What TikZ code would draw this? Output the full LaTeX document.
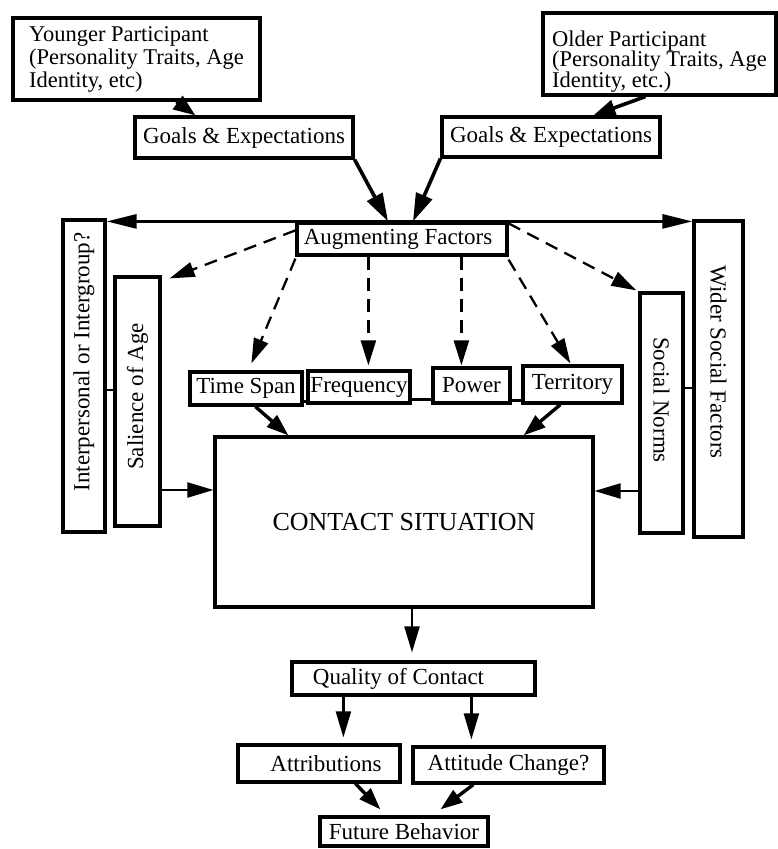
\documentclass[tikz,border=0pt]{standalone}
\usepackage{fontspec}
\setmainfont{Liberation Serif}
\usetikzlibrary{arrows.meta,calc}
\newcommand\fsz{\fontsize{23}{23}\selectfont}
\begin{document}
\begin{tikzpicture}[x=1pt,y=-1pt,
  box/.style={draw, line width=3.2pt, inner sep=0pt, font=\fsz, align=center},
  big/.style={-{Triangle[length=28pt,width=17pt]}, line width=3.6pt},
  short/.style={-{Triangle[length=22pt,width=16pt]}, line width=3.6pt},
  big2/.style={-{Triangle[length=22pt,width=15pt]}, line width=3.4pt},
  mid/.style={-{Triangle[length=26pt,width=15pt]}, line width=2.2pt},
  dsh/.style={-{Triangle[length=25pt,width=15pt]}, line width=2.3pt, dash pattern=on 13pt off 8pt},
  harr/.style={{Triangle[length=30pt,width=14pt]}-{Triangle[length=30pt,width=14pt]}, line width=2.6pt},
  link/.style={line width=2.4pt}]
\useasboundingbox (0,0) rectangle (778,849);
% boxes
\node[box, minimum width=247pt, minimum height=82pt, align=left, font=\fontsize{22.5}{23}\selectfont] (yp) at (136.5,59) {Younger Participant\\(Personality Traits, Age\\Identity, etc)};
\node[box, minimum width=218pt, minimum height=41pt] (g1) at (244,137.5) {Goals \& Expectations};
\node[box, minimum width=233pt, minimum height=82pt, align=left, font=\fontsize{22.5}{20.5}\selectfont] (op) at (659.5,54) {\rule{0pt}{30pt}Older Participant\\(Personality Traits, Age\\Identity, etc.)};
\node[box, minimum width=218pt, minimum height=40pt] (g2) at (551,137) {Goals \& Expectations};
\node[box, minimum width=210pt, minimum height=32pt] (aug) at (402,239) {Augmenting Factors\hspace*{8pt}};
\node[box, rotate=90, minimum width=312pt, minimum height=42pt] (ip) at (84,376) {\hspace*{28pt}Interpersonal or Intergroup?};
\node[box, rotate=90, minimum width=249pt, minimum height=45pt] (sal) at (137.5,401.5) {\hspace*{10pt}Salience of Age};
\node[box, minimum width=112pt, minimum height=33pt] (ts) at (246,388.5) {Time Span};
\node[box, minimum width=102pt, minimum height=32pt] (fr) at (359,387) {Frequency};
\node[box, minimum width=77pt, minimum height=35pt] (pw) at (471.5,385.5) {Power};
\node[box, minimum width=99pt, minimum height=37pt] (te) at (572.5,384.5) {Territory};
\node[box, rotate=-90, minimum width=240pt, minimum height=43pt] (sn) at (661.5,413) {Social Norms\hspace*{26pt}};
\node[box, rotate=-90, minimum width=316pt, minimum height=49pt] (ws) at (718.5,379) {Wider Social Factors\hspace*{34pt}};
\node[box, minimum width=378pt, minimum height=170pt, font=\fontsize{26}{26}\selectfont] (cs) at (404,522) {CONTACT SITUATION};
\node[box, minimum width=243pt, minimum height=33pt] (qc) at (413.5,678.5) {Quality of Contact\hspace*{30pt}};
\node[box, minimum width=162pt, minimum height=37pt] (at) at (319,763.5) {\hspace*{14pt}Attributions};
\node[box, minimum width=191pt, minimum height=36pt] (ac) at (508.5,765) {Attitude Change?};
\node[box, minimum width=168pt, minimum height=29pt] (fb) at (404,831.5) {Future Behavior};
% top arrows
\draw[short] ($(yp.south west)+(165,0)$) -- ($(g1.north west)+(62,0)$);
\draw[short] ($(op.south west)+(104,0)$) -- ($(g2.north west)+(153,0)$);
\draw[big] (g1.south east) -- ($(aug.north)+(-14,0)$);
\draw[big] (g2.south west) -- ($(aug.north)+(11,0)$);
\draw[harr] (ip.south east |- aug.north) -- (ws.south west |- aug.north);
% dashed arrows
\draw[dsh] ($(aug.north west)+(0,9)$) -- ($(sal.south east)+(8,3)$);
\draw[dsh] ($(aug.south west)+(0,2)$) -- ($(ts.north west)+(63,-7)$);
\coordinate (d3) at ($(aug.south west)+(73,0)$);
\draw[dsh] (d3) -- ($(d3 |- fr.north)+(0,-4)$);
\coordinate (d4) at ($(aug.south west)+(166,0)$);
\draw[dsh] (d4) -- ($(d4 |- pw.north)+(0,-1)$);
\draw[dsh] ($(aug.south east)+(0,3)$) -- ($(te.north west)+(49,-1)$);
\draw[dsh] ($(aug.north east)+(0,2)$) -- ($(sn.south west)+(-2,-1)$);
% links
\coordinate (l1) at ($(ts.south east)+(0,-5)$); \draw[link] (l1) -- (l1 -| fr.west);
\coordinate (l2) at ($(fr.south east)+(0,-5)$); \draw[link] (l2) -- (l2 -| pw.west);
\coordinate (l3) at ($(pw.south east)+(0,-4)$); \draw[link] (l3) -- (l3 -| te.west);
\coordinate (l4) at ($(ip.south)+(0,14)$); \draw[link] (l4) -- (l4 -| sal.north);
\coordinate (l5) at ($(sn.north)+(0,-25)$); \draw[link] (l5) -- (l5 -| ws.south);
% into contact situation
\coordinate (s1) at ($(sal.south)+(0,88.5)$); \draw[mid] (s1) -- (s1 -| cs.west);
\coordinate (s2) at ($(sn.south)+(0,78)$); \draw[mid] (s2) -- (s2 -| cs.east);
\draw[big2] ($(ts.south west)+(67,0)$) -- ($(cs.north west)+(75,0)$);
\draw[big2] ($(te.south west)+(39,0)$) -- ($(cs.north east)+(-71,0)$);
% bottom
\coordinate (q0) at ($(cs.south)+(8,0)$); \draw[mid] (q0) -- ($(q0 |- qc.north)+(0,-8)$);
\coordinate (q1) at ($(qc.south west)+(53,0)$); \draw[mid] (q1) -- ($(q1 |- at.north)+(0,-6)$);
\coordinate (q2) at ($(qc.south west)+(181,0)$); \draw[mid] (q2) -- ($(q2 |- ac.north)+(0,-6)$);
\draw[big2] ($(at.south west)+(119,0)$) -- ($(fb.north west)+(62,-6)$);
\draw[big2] ($(ac.south west)+(62,0)$) -- ($(fb.north west)+(122,-6)$);
\end{tikzpicture}
\end{document}
